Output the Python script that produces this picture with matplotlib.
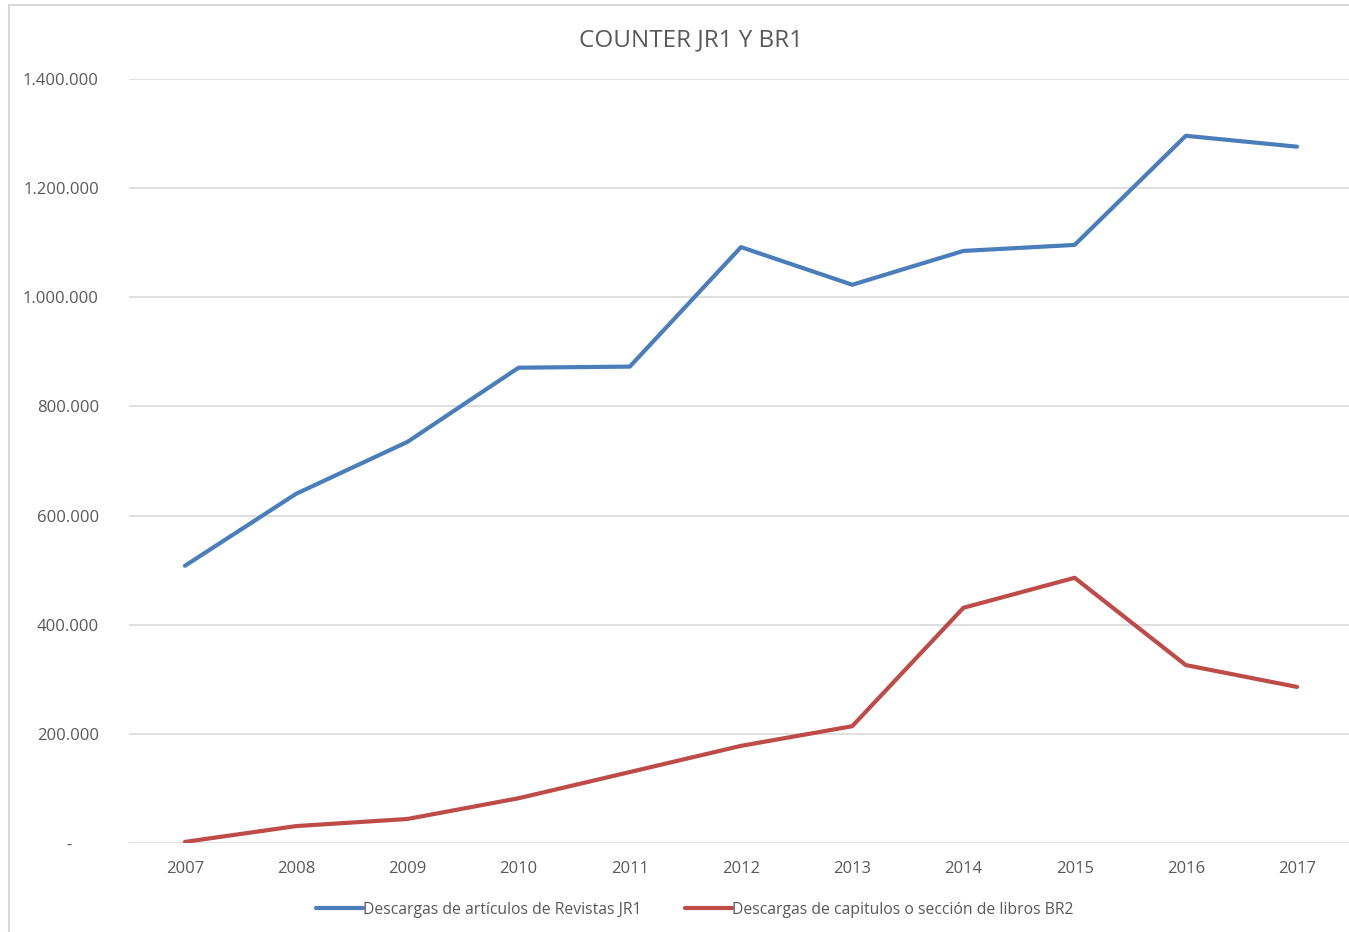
import numpy as np
import matplotlib.pyplot as plt
from matplotlib.ticker import FuncFormatter

years = ["2007", "2008", "2009", "2010", "2011", "2012", "2013", "2014", "2015", "2016", "2017"]
jr1 = [508000, 640000, 735000, 871000, 873000, 1092000, 1023000, 1085000, 1096000, 1296000, 1276000]
br2 = [2000, 31000, 44000, 82000, 130000, 178000, 214000, 431000, 486000, 326000, 286000]

label_jr1 = "Descargas de artículos de Revistas JR1"
label_br2 = "Descargas de capitulos o sección de libros BR2"

plt.rcParams['font.family'] = ['Open Sans', 'DejaVu Sans']

fig = plt.figure(figsize=(13.49, 9.32), dpi=100)
# light border around the chart area
fig.patches.append(plt.Rectangle((0.007, -0.01), 1.0, 1.005, transform=fig.transFigure,
                                 fill=False, edgecolor='#d9d9d9', linewidth=1.5))

ax = fig.add_axes([0.0959, 0.0955, 0.9068, 0.8197])

x = np.arange(len(years))
ax.plot(x, jr1, color='#4a7ebb', linewidth=3, label=label_jr1, solid_capstyle='round')
ax.plot(x, br2, color='#be4b48', linewidth=3, label=label_br2, solid_capstyle='round')

ax.set_xlim(-0.5, len(years) - 0.5)
ax.set_ylim(0, 1400000)
ax.set_yticks(np.arange(0, 1400001, 200000))
ax.set_xticks(x)
ax.set_xticklabels(years)


def fmt(v, pos):
    if v == 0:
        return "-      "
    return "{:,.0f}".format(v).replace(",", ".")


ax.yaxis.set_major_formatter(FuncFormatter(fmt))
ax.grid(axis='y', color='#d9d9d9', linewidth=1.2)
ax.set_axisbelow(True)
for s in ax.spines.values():
    s.set_visible(False)
ax.tick_params(axis='both', length=0, labelsize=12, colors='#595959')
ax.tick_params(axis='y', pad=22)
ax.tick_params(axis='x', pad=13)

fig.text(0.512, 0.957, "COUNTER JR1 Y BR1", ha='center', va='center', fontsize=17.5, color='#595959')

fig.legend(loc='lower center', bbox_to_anchor=(0.515, 0.0), ncol=2, frameon=False,
           fontsize=11.3, handlelength=3, handletextpad=0.0, columnspacing=2.8,
           labelcolor='#595959')

fig.savefig("out.png", dpi=100, facecolor='white')
